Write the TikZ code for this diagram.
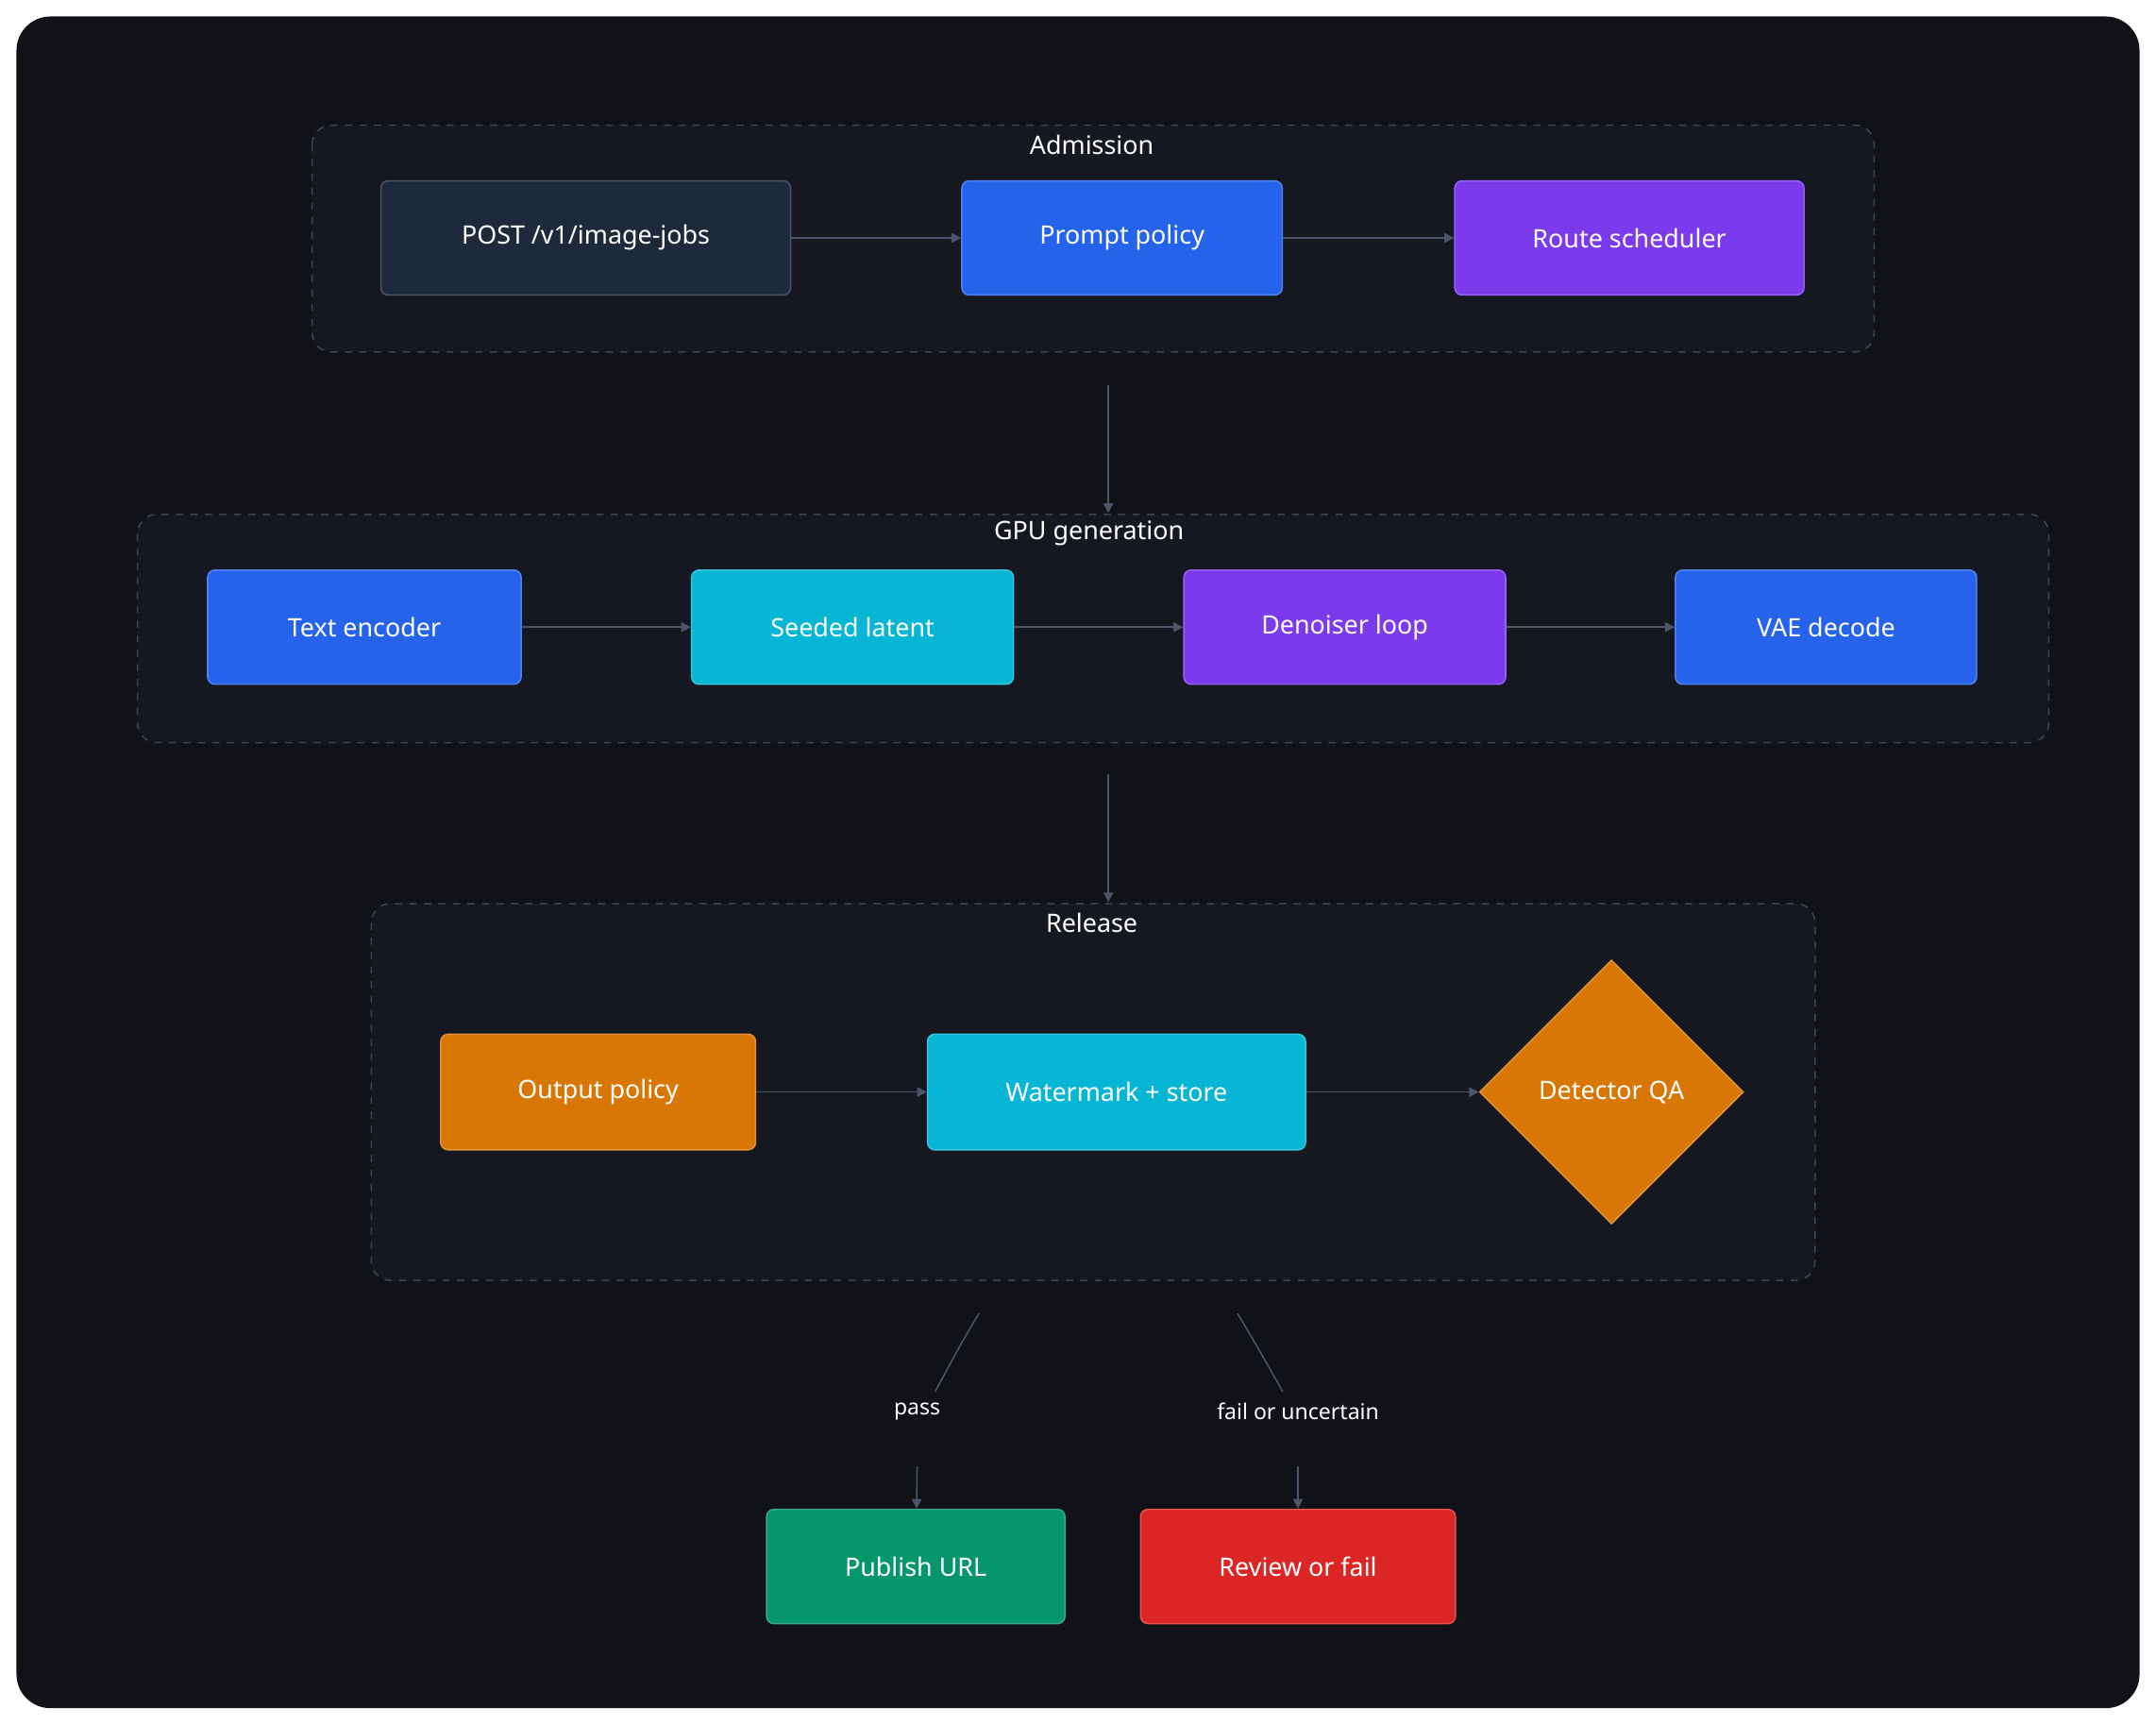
\documentclass[tikz,border=0pt]{standalone}
\usepackage{fontspec}
\setmainfont{Noto Sans}
\usetikzlibrary{shapes.geometric,arrows.meta}
\definecolor{bgdark}{HTML}{101218}
\definecolor{grpfill}{HTML}{161821}
\definecolor{grpline}{HTML}{3A4556}
\definecolor{edgecol}{HTML}{4B5668}
\definecolor{slate}{HTML}{1E293B}
\definecolor{blu}{HTML}{2563EB}
\definecolor{pur}{HTML}{7C3AED}
\definecolor{cya}{HTML}{06B6D4}
\definecolor{ora}{HTML}{D97706}
\definecolor{gre}{HTML}{059669}
\definecolor{rd}{HTML}{DC2626}
\tikzset{
  box/.style={draw=#1!80!white, fill=#1, rounded corners=3pt, text=white,
    font=\fontsize{10.5}{12}\selectfont, line width=0.6pt},
  grp/.style={draw=grpline, fill=grpfill, dashed, rounded corners=8pt, line width=0.6pt},
  title/.style={text=white, font=\fontsize{10.5}{12}\selectfont\bfseries},
  flow/.style={draw=edgecol, line width=0.6pt, -{Triangle[length=4pt,width=4pt]}},
}
\begin{document}
\begin{tikzpicture}[x=0.02cm, y=-0.02cm]
  \useasboundingbox (0, 0) rectangle (1568, 1254);
  \fill [white] (0, 0) rectangle (1568, 1254);
  \fill [bgdark, rounded corners=14pt] (12, 12) rectangle (1556, 1242);
  % groups
  \draw [grp] (227, 91) rectangle (1363, 256);
  \node [title] (admT) at (794, 105) {Admission};
  \draw [grp] (100, 374) rectangle (1490, 540);
  \node [title] (gpuT) at (792, 388) {GPU generation};
  \draw [grp] (270, 657) rectangle (1320, 931);
  \node [title] (relT) at (794, 671) {Release};
  % admission
  \node [box=slate, minimum width=5.96cm, minimum height=1.66cm] (post) at (426, 173) {POST /v1/image-jobs};
  \node [box=blu, minimum width=4.66cm, minimum height=1.66cm] (prompt) at (816, 173) {Prompt policy};
  \node [box=pur, minimum width=5.08cm, minimum height=1.66cm] (route) at (1185, 173) {Route scheduler};
  % gpu
  \node [box=blu, minimum width=4.56cm, minimum height=1.66cm] (enc) at (265, 456) {Text encoder};
  \node [box=cya, minimum width=4.68cm, minimum height=1.66cm] (seed) at (620, 456) {Seeded latent};
  \node [box=pur, minimum width=4.68cm, minimum height=1.66cm] (den) at (978, 456) {Denoiser loop};
  \node [box=blu, minimum width=4.38cm, minimum height=1.66cm] (vae) at (1328, 456) {VAE decode};
  % release
  \node [box=ora, minimum width=4.58cm, minimum height=1.68cm] (outp) at (435, 794) {Output policy};
  \node [box=cya, minimum width=5.5cm, minimum height=1.68cm] (wm) at (812, 794) {Watermark + store};
  \node [box=ora, diamond, rounded corners=0pt, minimum width=3.84cm, minimum height=3.84cm, inner sep=0pt] (qa) at (1172, 794) {Detector QA};
  \node [box=gre, minimum width=4.34cm, minimum height=1.66cm] (pub) at (666, 1139) {Publish URL};
  \node [box=rd, minimum width=4.58cm, minimum height=1.66cm] (rev) at (944, 1139) {Review or fail};
  % free ends
  \coordinate (a1) at (806, 280); \coordinate (a2) at (806, 373);
  \coordinate (g1) at (806, 563); \coordinate (g2) at (806, 656);
  \coordinate (p0) at (712, 955); \coordinate (p1) at (680, 1012);
  \coordinate (f0) at (900, 955); \coordinate (f1) at (933, 1012);
  \node [fill=bgdark, text=white, font=\fontsize{9}{11}\selectfont] (passL) at (667, 1026) {pass};
  \node [fill=bgdark, text=white, font=\fontsize{9}{11}\selectfont] (failL) at (944, 1026) {fail or uncertain};
  \coordinate (p2) at (667, 1066); \coordinate (f2) at (944, 1066);
  % edges
  \draw [flow] (post) -- (prompt);
  \draw [flow] (prompt) -- (route);
  \draw [flow] (a1) -- (a2);
  \draw [flow] (enc) -- (seed);
  \draw [flow] (seed) -- (den);
  \draw [flow] (den) -- (vae);
  \draw [flow] (g1) -- (g2);
  \draw [flow] (outp) -- (wm);
  \draw [flow] (wm) -- (qa);
  \draw [draw=edgecol, line width=0.6pt] (p0) .. controls (700, 975) .. (p1);
  \draw [draw=edgecol, line width=0.6pt] (f0) .. controls (912, 975) .. (f1);
  \draw [flow] (p2) -- (pub);
  \draw [flow] (f2) -- (rev);
\end{tikzpicture}
\end{document}
